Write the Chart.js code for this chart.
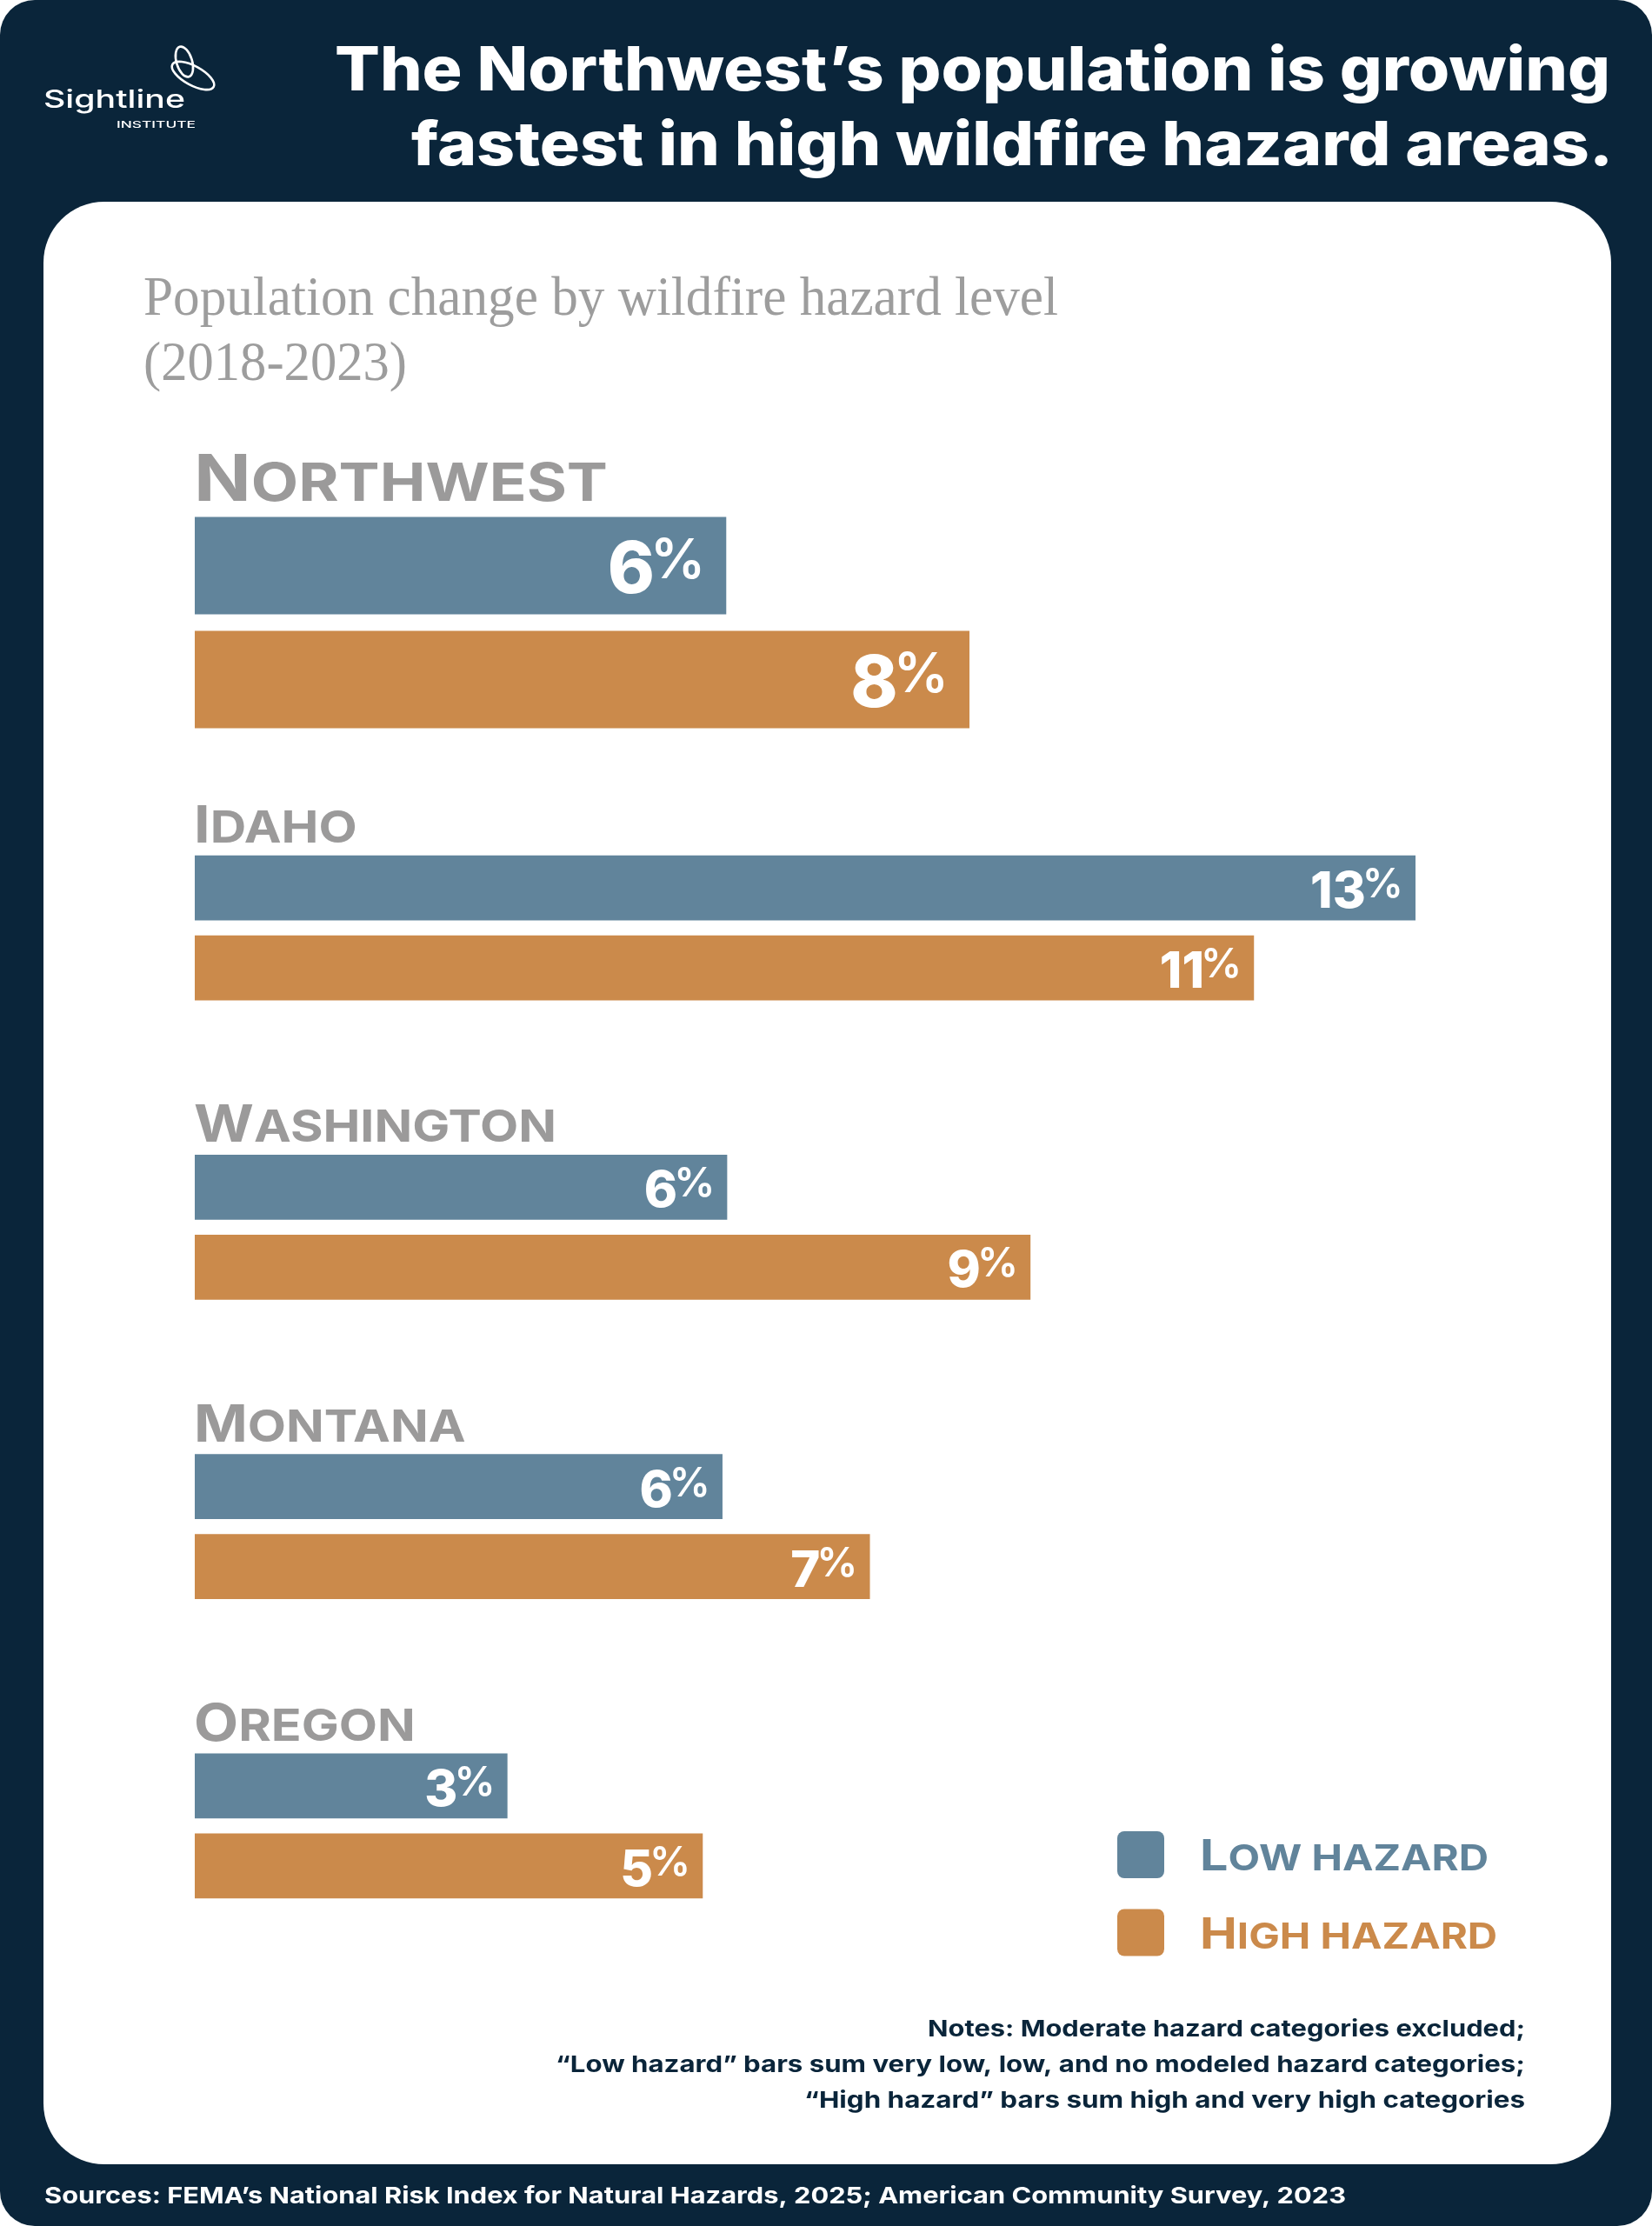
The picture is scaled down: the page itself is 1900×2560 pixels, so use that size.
<!DOCTYPE html>
<html lang="en">
<head>
<meta charset="UTF-8">
<title>Population change by wildfire hazard level</title>
<script src="https://cdn.jsdelivr.net/npm/chart.js"></script>
<style>
  html, body { margin: 0; padding: 0; background: #fff; }
  #wrap { position: relative; width: 1900px; height: 2560px; }
  #wrap canvas { position: absolute; left: 0; top: 0; }
</style>
</head>
<body>
<div id="wrap">
  <canvas id="nwChart" width="1900" height="2560"></canvas>
  <canvas id="stateChart" width="1900" height="2560"></canvas>
</div>
<script>
// data (percent population change 2018-2023)
const regions = ['Northwest', 'Idaho', 'Washington', 'Montana', 'Oregon'];
const seriesNames = ['Low hazard', 'High hazard'];
const lowHazard  = [5.66, 13.0, 5.67, 5.62, 3.33];
const highHazard = [8.25, 11.28, 8.9, 7.19, 5.41];
const axisMax = 13;

const titleLines = ['The Northwest\u2019s population is growing', 'fastest in high wildfire hazard areas.'];
const subtitleLines = ['Population change by wildfire hazard level', '(2018-2023)'];
const noteLines = [
  'Notes: Moderate hazard categories excluded;',
  '\u201cLow hazard\u201d bars sum very low, low, and no modeled hazard categories;',
  '\u201cHigh hazard\u201d bars sum high and very high categories'
];
const sourceLine = 'Sources: FEMA\u2019s National Risk Index for Natural Hazards, 2025; American Community Survey, 2023';

const NAVY = '#0a253a';
const LOW = '#61849b';
const HIGH = '#cb8a4b';
const GRAY = '#9b9a9a';
const SANS = 'Inter, "Open Sans", sans-serif';

// draw text squeezed/stretched to a given width
function fitText(ctx, str, x, y, font, width, align, color) {
  ctx.save();
  ctx.font = font;
  ctx.fillStyle = color;
  ctx.textAlign = align;
  ctx.textBaseline = 'alphabetic';
  const w = ctx.measureText(str).width;
  ctx.translate(x, y);
  ctx.scale(width / w, 1);
  ctx.fillText(str, 0, 0);
  ctx.restore();
}

// small caps: capitals big, lower case as smaller capitals
function capsRuns(str) {
  const runs = [];
  for (const ch of str) {
    const big = ch !== ch.toLowerCase();
    const last = runs[runs.length - 1];
    if (last && last.big === big) last.t += ch.toUpperCase();
    else runs.push({ t: ch.toUpperCase(), big });
  }
  return runs;
}
function capsWidth(ctx, str, o) {
  let w = 0;
  capsRuns(str).forEach(r => {
    ctx.font = `${o.weight} ${r.big ? o.big : o.small}px ${SANS}`;
    w += ctx.measureText(r.t).width;
  });
  return w;
}
function drawCaps(ctx, str, x, y, o, stretch) {
  ctx.save();
  ctx.fillStyle = o.color;
  ctx.textAlign = 'left';
  ctx.textBaseline = 'alphabetic';
  ctx.translate(x, y);
  ctx.scale(stretch, 1);
  let cx = 0;
  capsRuns(str).forEach(r => {
    ctx.font = `${o.weight} ${r.big ? o.big : o.small}px ${SANS}`;
    ctx.fillText(r.t, cx, 0);
    cx += ctx.measureText(r.t).width;
  });
  ctx.restore();
}

// region names above the bars and value labels inside the bar ends
const barText = {
  id: 'barText',
  afterDatasetsDraw(chart, args, o) {
    const ctx = chart.ctx;
    const cap = { weight: 700, big: o.big, small: o.small, color: GRAY };
    const stretch = o.fitWidth / capsWidth(ctx, o.fitRef, cap);
    const first = chart.getDatasetMeta(0);
    chart.data.labels.forEach((lab, i) => {
      const bar = first.data[i];
      drawCaps(ctx, lab, chart.chartArea.left - 1, bar.y - bar.height / 2 - o.labelGap, cap, stretch);
    });
    ctx.save();
    ctx.fillStyle = '#fff';
    ctx.textAlign = 'right';
    ctx.textBaseline = 'alphabetic';
    chart.data.datasets.forEach((ds, di) => {
      chart.getDatasetMeta(di).data.forEach((bar, i) => {
        const num = String(Math.round(ds.data[i]));
        const right = bar.x - o.pad;
        const base = bar.y + o.digitCap / 2 + 2;
        ctx.font = `600 ${o.pctPx}px ${SANS}`;
        const pw = ctx.measureText('%').width;
        ctx.fillText('%', right, base - o.pctRise);
        ctx.font = `800 ${o.digitPx}px ${SANS}`;
        ctx.fillText(num, right - pw - o.pctGap, base);
      });
    });
    ctx.restore();
  }
};

// page background, header, notes and source line
const pageDeco = {
  id: 'pageDeco',
  beforeDraw(chart) {
    const ctx = chart.ctx;
    ctx.save();
    ctx.fillStyle = '#fff';
    ctx.fillRect(0, 0, 1900, 2560);
    ctx.fillStyle = NAVY;
    ctx.beginPath();
    ctx.roundRect(0, 0, 1900, 2560, 40);
    ctx.fill();
    ctx.fillStyle = '#fff';
    ctx.beginPath();
    ctx.roundRect(50, 232, 1803, 2257, 70);
    ctx.fill();
    ctx.restore();
  },
  afterDraw(chart) {
    const ctx = chart.ctx;
    // logo
    ctx.save();
    ctx.strokeStyle = '#fff';
    ctx.lineWidth = 2.6;
    ctx.beginPath();
    ctx.ellipse(212, 71, 9, 18, -0.3, 0, Math.PI * 2);
    ctx.stroke();
    ctx.beginPath();
    ctx.ellipse(222, 87, 27, 11, 0.5, 0, Math.PI * 2);
    ctx.stroke();
    ctx.restore();
    fitText(ctx, 'Sightline', 50, 124, `500 29px ${SANS}`, 163, 'left', '#fff');
    fitText(ctx, 'INSTITUTE', 225, 147, `500 11px ${SANS}`, 91, 'right', '#fff');

    // title
    fitText(ctx, titleLines[0], 1852, 104, `800 70px ${SANS}`, 1467, 'right', '#fff');
    fitText(ctx, titleLines[1], 1855, 190, `800 70px ${SANS}`, 1382, 'right', '#fff');

    // subtitle
    fitText(ctx, subtitleLines[0], 165, 362, '400 63px "Liberation Serif", serif', 1052, 'left', '#9d9d9d');
    fitText(ctx, subtitleLines[1], 165, 437, '400 63px "Liberation Serif", serif', 303, 'left', '#9d9d9d');

    // notes
    const noteW = [687, 1115, 829];
    noteLines.forEach((t, i) => {
      fitText(ctx, t, 1754, 2342 + i * 40.8, `700 26px ${SANS}`, noteW[i], 'right', NAVY);
    });

    // source
    fitText(ctx, sourceLine, 51, 2534, `700 26px ${SANS}`, 1497, 'left', '#fff');
  }
};

// legend in the lower right of the card
const legendBox = {
  id: 'legendBox',
  afterDraw(chart) {
    const ctx = chart.ctx;
    const cap = { weight: 700, big: 49.5, small: 41, color: LOW };
    const stretch = 332 / capsWidth(ctx, seriesNames[0], cap);
    chart.data.datasets.forEach((ds, i) => {
      const y = 2106 + i * 89.5;
      ctx.save();
      ctx.fillStyle = ds.backgroundColor;
      ctx.beginPath();
      ctx.roundRect(1285, y, 54, 54, 8);
      ctx.fill();
      ctx.restore();
      drawCaps(ctx, ds.label, 1380, y + 45, Object.assign({}, cap, { color: ds.backgroundColor }), stretch);
    });
  }
};

function makeChart(id, labels, low, high, padding, catPct, barPct, textOpts, extra) {
  const ds = (label, data, color) => ({
    label, data, backgroundColor: color, borderWidth: 0,
    categoryPercentage: catPct, barPercentage: barPct
  });
  return new Chart(document.getElementById(id), {
    type: 'bar',
    data: {
      labels: labels,
      datasets: [ds(seriesNames[0], low, LOW), ds(seriesNames[1], high, HIGH)]
    },
    options: {
      indexAxis: 'y',
      responsive: false,
      animation: false,
      events: [],
      layout: { padding: padding },
      scales: {
        x: { display: false, min: 0, max: axisMax },
        y: { display: false }
      },
      plugins: {
        legend: { display: false },
        tooltip: { enabled: false },
        barText: textOpts
      }
    },
    plugins: [barText].concat(extra)
  });
}

makeChart('nwChart', regions.slice(0, 1), lowHazard.slice(0, 1), highHazard.slice(0, 1),
  { left: 224, right: 272, top: 566, bottom: 1694 }, 0.8733, 0.855,
  { big: 74, small: 60.5, fitRef: 'Northwest', fitWidth: 476, labelGap: 19,
    digitPx: 82, digitCap: 59, pctPx: 63, pctRise: 17, pctGap: -5, pad: 24 },
  [pageDeco]);

makeChart('stateChart', regions.slice(1), lowHazard.slice(1), highHazard.slice(1),
  { left: 224, right: 272, top: 895, bottom: 288 }, 0.534, 0.815,
  { big: 59, small: 51, fitRef: 'Washington', fitWidth: 417, labelGap: 14.5,
    digitPx: 58, digitCap: 42, pctPx: 47, pctRise: 12, pctGap: -4, pad: 14 },
  [legendBox]);
</script>
</body>
</html>
